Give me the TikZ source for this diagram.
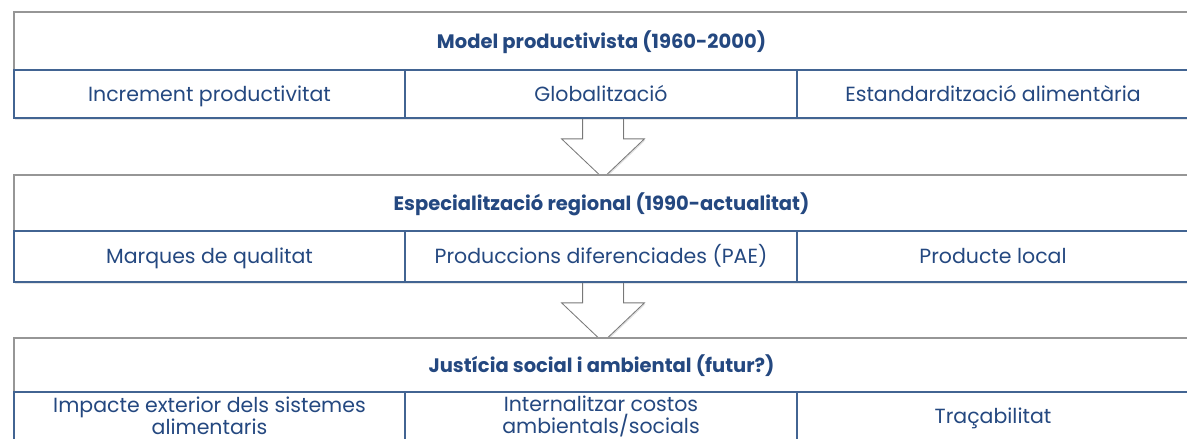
\documentclass[tikz,border=0pt]{standalone}
\usepackage{fontspec}
\setmainfont{Poppins}
\usepackage{tikz}
\usetikzlibrary{positioning, shapes.arrows, shadows, backgrounds}
\definecolor{textBlue}{RGB}{36, 72, 128}
\definecolor{lineBlue}{RGB}{66, 100, 146}
\definecolor{frameGray}{RGB}{150, 150, 150}
\definecolor{arrowGray}{RGB}{120, 120, 120}
\tikzset{
    title_box/.style={
        rectangle,
        draw=frameGray,
        line width=1.2pt,
        fill=white,
        text=textBlue,
        font=\fontsize{19.5}{23}\selectfont\bfseries,
        text height=14pt,
        text depth=0pt,
        minimum width=1175pt,
        outer sep=0pt,
        anchor=north west,
        drop shadow={opacity=0.2, shadow xshift=1pt, shadow yshift=-1.5pt}
    },
    cell_box/.style={
        rectangle,
        draw=lineBlue,
        line width=1.4pt,
        fill=white,
        text=textBlue,
        font=\fontsize{20.5}{22}\selectfont,
        text height=14pt,
        text depth=0pt,
        align=center,
        inner sep=0pt,
        outer sep=0pt,
        drop shadow={opacity=0.2, shadow xshift=1pt, shadow yshift=-1.5pt}
    },
    two_lines/.style={
        text height=,
        text depth=
    },
    flow_arrow/.style={
        single arrow,
        shape border rotate=270,
        draw=arrowGray,
        line width=0.8pt,
        fill=white,
        minimum height=57pt,
        minimum width=82pt,
        inner sep=20pt,
        single arrow head extend=21pt,
        single arrow tip angle=93,
        outer sep=0pt,
        drop shadow={opacity=0.25, shadow xshift=1pt, shadow yshift=-1.5pt}
    }
}

\begin{document}
\begin{tikzpicture}[x=1pt, y=-1pt]
    \useasboundingbox (0,0) rectangle (1187,439);

    % model productivista
    \node[title_box, minimum height=58pt] (t1) at (14,12) {Model productivista (1960-2000)};
    \node[cell_box, minimum width=391pt, minimum height=48pt, anchor=north west] (c1a) at (t1.south west) {Increment productivitat};
    \node[cell_box, minimum width=392pt, minimum height=48pt, right=0pt of c1a] (c1b) {Globalització};
    \node[cell_box, minimum width=392pt, minimum height=48pt, right=0pt of c1b] (c1c) {Estandardització alimentària};

    % especialitzacio regional
    \node[title_box, minimum height=56pt] (t2) at (14,175) {Especialització regional (1990-actualitat)};
    \node[cell_box, minimum width=391pt, minimum height=51pt, anchor=north west] (c2a) at (t2.south west) {Marques de qualitat};
    \node[cell_box, minimum width=392pt, minimum height=51pt, right=0pt of c2a] (c2b) {Produccions diferenciades (PAE)};
    \node[cell_box, minimum width=392pt, minimum height=51pt, right=0pt of c2b] (c2c) {Producte local};

    % justicia social i ambiental
    \node[title_box, minimum height=54pt] (t3) at (14,338) {Justícia social i ambiental (futur?)};
    \node[cell_box, two_lines, minimum width=391pt, minimum height=48pt, anchor=north west] (c3a) at (t3.south west) {Impacte exterior dels sistemes\\alimentaris};
    \node[cell_box, two_lines, minimum width=392pt, minimum height=48pt, right=0pt of c3a] (c3b) {Internalitzar costos\\ambientals/socials};
    \node[cell_box, minimum width=392pt, minimum height=48pt, right=0pt of c3b] (c3c) {Traçabilitat};

    \begin{scope}[on background layer]
        \node[flow_arrow, anchor=tail, xshift=2pt] (a1) at (c1b.south) {};
        \node[flow_arrow, anchor=tail, xshift=2pt] (a2) at (c2b.south) {};
    \end{scope}
\end{tikzpicture}
\end{document}
